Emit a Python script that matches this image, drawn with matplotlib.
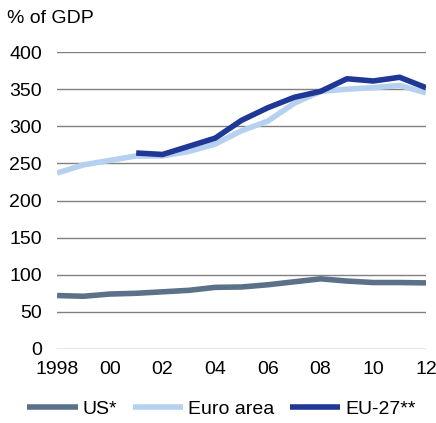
import matplotlib
matplotlib.use('Agg')
import matplotlib.pyplot as plt

plt.rcParams['font.family'] = ['Liberation Sans', 'DejaVu Sans']

years = list(range(1998, 2013))
us = [72, 71, 74, 75, 77, 79, 83, 83.5, 86.5, 90.5, 94.5, 91.5, 89.5, 89.5, 89]
euro_area = [237, 248, 254, 260, 260, 266, 276, 294, 307, 331, 347, 350, 352, 355, 345]
eu27_years = list(range(2001, 2013))
eu27 = [264, 262, 273, 284, 308, 325, 339, 347, 364, 361, 366, 352]

xtick_years = [1998, 2000, 2002, 2004, 2006, 2008, 2010, 2012]
xtick_labels = ['1998', '00', '02', '04', '06', '08', '10', '12']

fig = plt.figure(figsize=(4.36, 4.23), dpi=100)
ax = fig.add_axes([0.131, 0.175, 0.846, 0.702])

ax.plot(years, us, color='#5b7189', lw=4, label='US*', solid_capstyle='butt')
ax.plot(years, euro_area, color='#b5d1ef', lw=4, label='Euro area', solid_capstyle='butt')
ax.plot(eu27_years, eu27, color='#1f3795', lw=4, label='EU-27**', solid_capstyle='butt')

ax.set_xlim(1998, 2012)
ax.set_ylim(0, 400)
ax.set_yticks(range(0, 401, 50))
ax.set_xticks(xtick_years)
ax.set_xticklabels(xtick_labels)
ax.tick_params(length=0, labelsize=14)
ax.tick_params(axis='x', pad=9)
ax.tick_params(axis='y', pad=11)
ax.grid(axis='y', color='#808080', lw=1)
ax.set_axisbelow(True)
for s in ax.spines.values():
    s.set_visible(False)

fig.text(0.015, 0.957, '% of GDP', fontsize=14, ha='left', va='center')

fig.legend(loc='center', bbox_to_anchor=(0.508, 0.033), ncol=3, frameon=False,
           fontsize=14, handlelength=2.6, handletextpad=0.25, columnspacing=0.8)

fig.savefig('out.png', dpi=100)
